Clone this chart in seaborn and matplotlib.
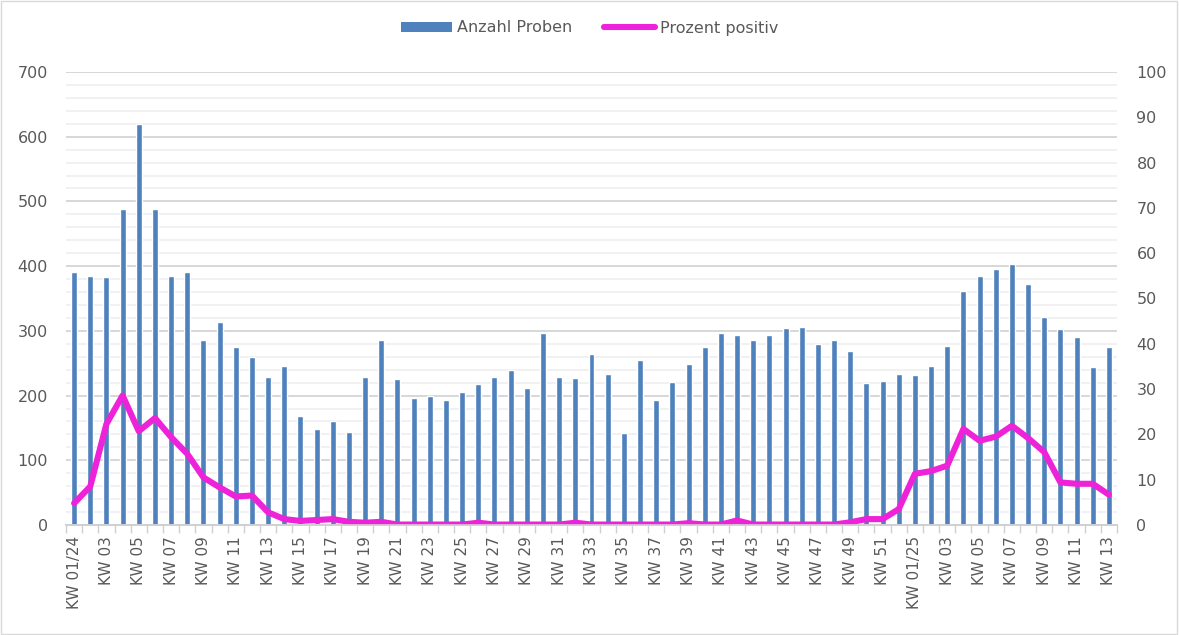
import numpy as np
import matplotlib
matplotlib.use("Agg")
import matplotlib.pyplot as plt
from matplotlib.ticker import MultipleLocator, FixedLocator
from matplotlib.patches import Patch, Rectangle
from matplotlib.lines import Line2D
import seaborn as sns

# calendar weeks 2024 (01-52) and 2025 (01-13)
weeks = ["KW 01/24"] + [f"KW {i:02d}" for i in range(2, 53)] + \
        ["KW 01/25"] + [f"KW {i:02d}" for i in range(2, 14)]

anzahl_proben = [
    391, 385, 383, 488, 620, 488, 385, 391, 286, 314,
    275, 259, 229, 246, 168, 148, 160, 144, 229, 286,
    226, 196, 200, 193, 206, 218, 229, 240, 211, 296,
    229, 227, 265, 234, 142, 255, 193, 221, 249, 275,
    296, 294, 286, 294, 305, 306, 280, 286, 269, 219,
    223, 234,
    232, 246, 277, 361, 385, 395, 403, 373, 321, 303,
    290, 244, 275,
]

prozent_positiv = [
    4.8, 8.5, 22.3, 28.6, 20.7, 23.6, 19.4, 15.7, 10.5, 8.3,
    6.3, 6.5, 2.8, 1.3, 0.9, 1.1, 1.3, 0.7, 0.5, 0.7,
    0.1, 0.1, 0.1, 0.1, 0.1, 0.5, 0.1, 0.1, 0.1, 0.1,
    0.1, 0.5, 0.1, 0.1, 0.1, 0.1, 0.1, 0.1, 0.4, 0.1,
    0.1, 1.0, 0.1, 0.1, 0.1, 0.1, 0.1, 0.1, 0.6, 1.3,
    1.3, 3.5,
    11.3, 11.9, 13.1, 21.2, 18.6, 19.5, 21.9, 19.2, 16.1, 9.4,
    9.1, 9.1, 6.7,
]

bar_color = "#4F81BD"
line_color = "#EE22D8"
text_color = "#595959"

sns.set_theme(style="white")
plt.rcParams['font.family'] = ['DejaVu Sans']

fig = plt.figure(figsize=(11.79, 6.35), dpi=100)
ax = fig.add_axes([66 / 1179, 1 - 525 / 635, 1051 / 1179, 453 / 635])

pos = np.arange(len(weeks))
sns.barplot(x=pos, y=anzahl_proben, ax=ax, color=bar_color, saturation=1,
            width=0.37, native_scale=True)
ax.set_xlim(-0.5, len(weeks) - 0.5)
ax.set_ylim(0, 700)
ax.yaxis.set_major_locator(MultipleLocator(100))
ax.yaxis.set_minor_locator(MultipleLocator(20))
ax.grid(axis="y", which="major", color="#D4D4D4", lw=1.3)
ax.grid(axis="y", which="minor", color="#F0F0F0", lw=1.3)
ax.set_axisbelow(True)

ax2 = ax.twinx()
sns.lineplot(x=pos, y=prozent_positiv, ax=ax2, color=line_color, lw=4.4)
ax2.set_ylim(0, 100)
ax2.yaxis.set_major_locator(MultipleLocator(10))
ax2.set_xlim(-0.5, len(weeks) - 0.5)

for a in (ax, ax2):
    for s in ("left", "right", "top"):
        a.spines[s].set_visible(False)
    a.spines["bottom"].set_color("#D0D0D0")
    a.spines["bottom"].set_linewidth(1.2)
    a.set_xlabel("")
    a.set_ylabel("")

ax.tick_params(axis="y", which="both", length=0, pad=13, labelsize=11.5, labelcolor=text_color)
ax2.tick_params(axis="y", which="both", length=0, pad=14, labelsize=11.5, labelcolor=text_color)

label_pos = pos[::2]
ax.xaxis.set_major_locator(FixedLocator(label_pos))
ax.set_xticklabels([weeks[i] for i in label_pos], rotation=90)
ax.xaxis.set_minor_locator(FixedLocator(np.arange(-0.5, len(weeks), 1.0)))
ax.tick_params(axis="x", which="major", length=0, pad=8, labelsize=11, labelcolor=text_color)
ax.tick_params(axis="x", which="minor", length=6, width=1, color="#D0D0D0", bottom=True)
ax2.tick_params(axis="x", which="both", length=0, labelbottom=False)

handles = [Patch(facecolor=bar_color, edgecolor="none"),
           Line2D([], [], color=line_color, lw=4.4, solid_capstyle="round")]
leg = fig.legend(handles, ["Anzahl Proben", "Prozent positiv"], loc="center",
                 bbox_to_anchor=(0.5, 1 - 28 / 635), ncol=2, frameon=False,
                 fontsize=11.5, handlelength=3.2, handleheight=0.6,
                 handletextpad=0.3, columnspacing=2.0)
for t in leg.get_texts():
    t.set_color(text_color)

fig.patches.append(Rectangle((0.001, 0.002), 0.997, 0.996, transform=fig.transFigure,
                             fill=False, edgecolor="#D9D9D9", lw=1))

fig.savefig("out.png", dpi=100)
